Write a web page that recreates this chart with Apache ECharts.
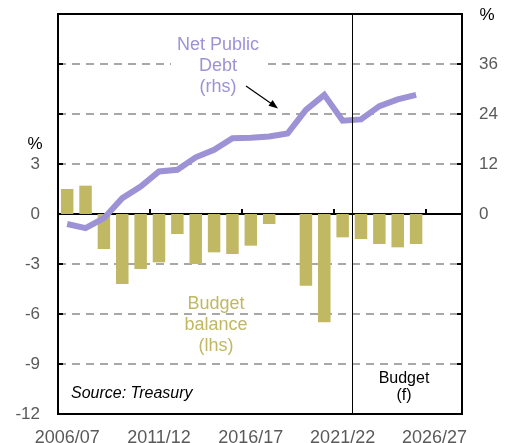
<!DOCTYPE html>
<html>
<head>
<meta charset="utf-8">
<script src="https://cdn.jsdelivr.net/npm/echarts@6/dist/echarts.min.js"></script>
<style>
  html, body { margin: 0; padding: 0; background: #fff; }
  #chart { width: 509px; height: 443px; }
</style>
</head>
<body>
<div id="chart"></div>
<script>
// Financial years shown on the category axis
const years = [
  '2006/07','2007/08','2008/09','2009/10','2010/11','2011/12','2012/13','2013/14',
  '2014/15','2015/16','2016/17','2017/18','2018/19','2019/20','2020/21','2021/22',
  '2022/23','2023/24','2024/25','2025/26','2026/27','2027/28'
];
// Underlying cash balance, % of GDP (left axis)
const budgetBalance = [
  1.5, 1.7, -2.1, -4.2, -3.3, -2.9, -1.2, -3.0, -2.3, -2.4,
  -1.9, -0.6, 0.0, -4.3, -6.5, -1.4, -1.5, -1.8, -2.0, -1.8
];
// Net public debt, % of GDP (right axis)
const netPublicDebt = [
  -2.4, -3.4, -1.0, 3.8, 6.6, 10.2, 10.6, 13.6, 15.4, 18.2,
  18.3, 18.6, 19.3, 25.0, 28.6, 22.4, 22.7, 25.9, 27.5, 28.6
];
// First forecast year in the budget
const forecastStart = '2022/23';

const FONT = 'Liberation Sans, Arial, sans-serif';
const GREY = '#5a5a5a';
const BAR = '#c0b862';
const LINE = '#9d92d6';

// Plot area
const W = 509, H = 443;
const G = { left: 58, right: 47, top: 14, bottom: 29 };

const chart = echarts.init(document.getElementById('chart'), null, { renderer: 'canvas' });

const tickStyle = { color: '#000', width: 2 };

chart.setOption({
  animation: false,
  grid: {
    left: G.left, right: G.right, top: G.top, bottom: G.bottom,
    show: false, containLabel: false, outerBoundsMode: 'none'
  },
  xAxis: [
    {
      type: 'category', data: years, position: 'bottom',
      axisLine: { show: false, onZero: false },
      axisTick: { show: false },
      axisLabel: { interval: 4, color: GREY, fontFamily: FONT, fontSize: 18, margin: 15 }
    },
    {
      // zero line with upward ticks at five-year boundaries
      type: 'category', data: years, position: 'top',
      axisLine: { show: true, onZero: true, lineStyle: { color: '#000', width: 2 } },
      axisTick: { show: true, interval: 4, inside: false, length: 5, lineStyle: tickStyle },
      axisLabel: { show: false }
    }
  ],
  yAxis: [
    {
      type: 'value', min: -12, max: 12, interval: 3, position: 'left',
      axisLine: { show: false },
      axisTick: { show: true, inside: true, length: 5, lineStyle: tickStyle },
      axisLabel: {
        color: GREY, fontFamily: FONT, fontSize: 17, margin: 18, showMinLabel: true,
        padding: [11, 0, 0, 0],
        formatter: v => (v <= 3 ? String(v) : '')
      },
      splitLine: { show: true, lineStyle: { color: '#a8a8a8', width: 2, type: [8, 6] } }
    },
    {
      type: 'value', min: -48, max: 48, interval: 12, position: 'right',
      axisLine: { show: false },
      axisTick: { show: true, inside: true, length: 5, lineStyle: tickStyle },
      axisLabel: {
        color: GREY, fontFamily: FONT, fontSize: 17, margin: 17,
        padding: [11, 0, 0, 0],
        formatter: v => (v >= 0 && v <= 36 ? String(v) : '')
      },
      splitLine: { show: false }
    }
  ],
  series: [
    {
      name: 'Budget balance', type: 'bar', xAxisIndex: 0, yAxisIndex: 0,
      data: budgetBalance, barCategoryGap: '32%',
      itemStyle: { color: BAR }
    },
    {
      name: 'Net Public Debt', type: 'line', xAxisIndex: 0, yAxisIndex: 1,
      data: netPublicDebt, symbol: 'none', z: 3,
      lineStyle: { color: LINE, width: 6, join: 'miter' }
    }
  ]
});

// Forecast divider sits on the boundary between the last actual year and the first forecast year
const fi = years.indexOf(forecastStart);
const xPrev = chart.convertToPixel({ xAxisIndex: 0 }, fi - 1);
const xNext = chart.convertToPixel({ xAxisIndex: 0 }, fi);
const xDiv = Math.round((xPrev + xNext) / 2) + 0.5;
const yTop = chart.convertToPixel({ yAxisIndex: 0 }, 12);
const yBot = chart.convertToPixel({ yAxisIndex: 0 }, -12);

chart.setOption({
  graphic: [
    {
      type: 'line', z: 50, silent: true,
      shape: { x1: xDiv, y1: yTop, x2: xDiv, y2: yBot },
      style: { stroke: '#000', lineWidth: 1 }
    },
    {
      // plot frame
      type: 'rect', z: 60, silent: true,
      shape: { x: G.left, y: G.top, width: W - G.left - G.right, height: H - G.top - G.bottom },
      style: { fill: null, stroke: '#000', lineWidth: 2 }
    },
    {
      type: 'text', z: 40,
      style: {
        text: 'Net Public\nDebt\n(rhs)', x: 218, y: 66, align: 'center', verticalAlign: 'middle',
        fill: LINE, font: '18px ' + FONT, lineHeight: 21,
        backgroundColor: '#fff', padding: [0, 6]
      }
    },
    {
      type: 'text', z: 40,
      style: {
        text: 'Budget\nbalance\n(lhs)', x: 216, y: 325, align: 'center', verticalAlign: 'middle',
        fill: BAR, font: '18px ' + FONT, lineHeight: 21
      }
    },
    {
      type: 'text', z: 40,
      style: {
        text: 'Source: Treasury', x: 71, y: 394, verticalAlign: 'middle',
        fill: '#000', font: 'italic 16px ' + FONT
      }
    },
    {
      type: 'text', z: 40,
      style: {
        text: 'Budget\n(f)', x: 404, y: 387, align: 'center', verticalAlign: 'middle',
        fill: '#000', font: '16px ' + FONT, lineHeight: 17
      }
    },
    {
      type: 'text', z: 40,
      style: { text: '%', x: 35, y: 144, align: 'center', verticalAlign: 'middle', fill: '#000', font: '17px ' + FONT }
    },
    {
      type: 'text', z: 40,
      style: { text: '%', x: 487, y: 15, align: 'center', verticalAlign: 'middle', fill: '#000', font: '17px ' + FONT }
    },
    {
      type: 'line', z: 40, silent: true,
      shape: { x1: 246, y1: 86, x2: 274, y2: 105.5 },
      style: { stroke: '#000', lineWidth: 1.2 }
    },
    {
      type: 'polygon', z: 40, silent: true,
      shape: { points: [[278, 108.5], [268.5, 105.8], [272.6, 99.9]] },
      style: { fill: '#000' }
    }
  ]
});
</script>
</body>
</html>
